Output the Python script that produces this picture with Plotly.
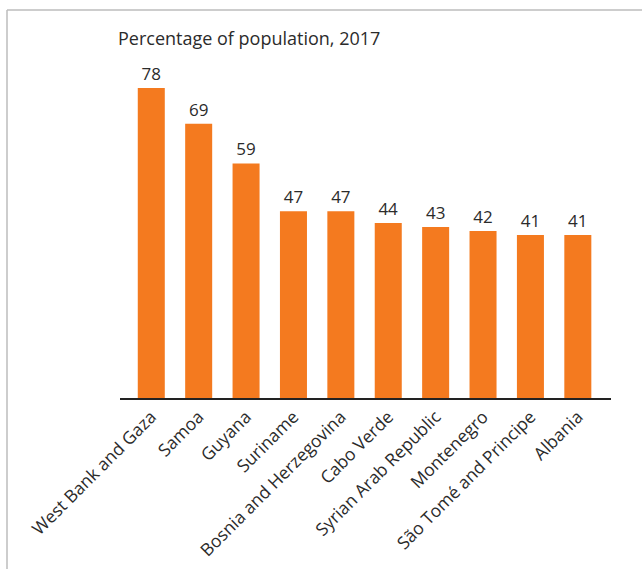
import plotly.graph_objects as go

countries = [
    "West Bank and Gaza", "Samoa", "Guyana", "Suriname",
    "Bosnia and Herzegovina", "Cabo Verde", "Syrian Arab Republic",
    "Montenegro", "São Tomé and Principe", "Albania",
]
shares = [78, 69, 59, 47, 47, 44, 43, 42, 41, 41]

W, H = 642, 569
L, R, T, B = 120, 31, 80, 171
pw, ph = W - L - R, H - T - B

def px_x(x):
    return (x - L) / pw

def px_y(y):
    return (H - B - y) / ph

fig = go.Figure(
    go.Bar(
        x=countries,
        y=shares,
        marker=dict(color="#F47A1F", line=dict(width=0)),
        text=[str(v) for v in shares],
        textposition="outside",
        textfont=dict(size=17, color="#2b2b2b"),
        cliponaxis=False,
    )
)

fig.update_layout(
    width=W, height=H,
    margin=dict(l=L, r=R, t=T, b=B, autoexpand=False),
    paper_bgcolor="white", plot_bgcolor="white",
    font=dict(family="Open Sans", color="#2b2b2b"),
    bargap=0.43,
    showlegend=False,
    uniformtext=dict(minsize=17, mode="show"),
    xaxis=dict(
        range=[-0.66, 9.7],
        tickangle=-45,
        tickfont=dict(size=17.5, color="#2b2b2b"),
        showline=True, linecolor="#222222", linewidth=1.5,
        ticks="", showgrid=False, zeroline=False,
        automargin=False,
    ),
    yaxis=dict(range=[0, 80], visible=False, automargin=False),
    annotations=[
        dict(
            text="Percentage of population, 2017",
            xref="paper", yref="paper",
            x=px_x(116), y=px_y(38),
            xanchor="left", yanchor="middle",
            showarrow=False,
            font=dict(size=18, color="#2b2b2b"),
        )
    ],
    shapes=[
        dict(type="line", xref="paper", yref="paper",
             x0=px_x(7), x1=px_x(7), y0=px_y(10), y1=px_y(H + 5),
             line=dict(color="#BDBDBD", width=1.5)),
        dict(type="line", xref="paper", yref="paper",
             x0=px_x(7), x1=px_x(W + 5), y0=px_y(10), y1=px_y(10),
             line=dict(color="#BDBDBD", width=1.5)),
    ],
)

fig.write_html("out.html")
